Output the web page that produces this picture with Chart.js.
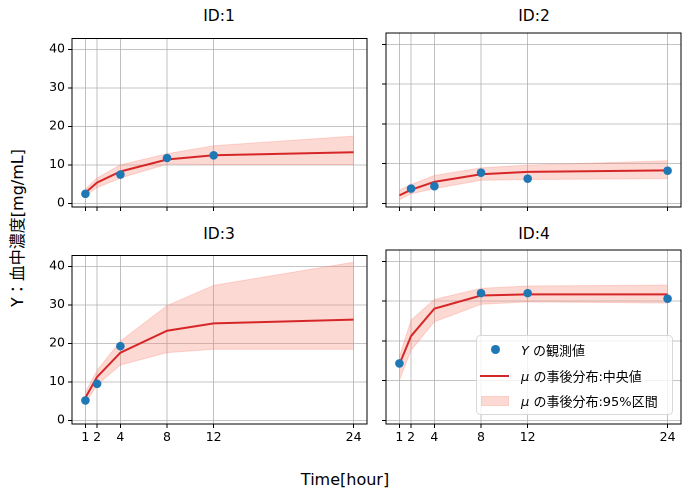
<!DOCTYPE html>
<html><head><meta charset="utf-8">
<script src="https://cdn.jsdelivr.net/npm/chart.js@4/dist/chart.umd.min.js"></script>
<style>
body{margin:0;background:#fff;width:691px;height:500px;position:relative;overflow:hidden;font-family:"DejaVu Sans","Noto Sans CJK JP",sans-serif;color:#000}
canvas{position:absolute}
.t{position:absolute;white-space:nowrap;transform:translate(-50%,-50%);line-height:1}
.lg{position:absolute;left:476px;top:335px;width:197px;height:80px;border:1px solid #d8d8d8;border-radius:4px;background:rgba(255,255,255,0.8);box-sizing:border-box}
.row{position:absolute;left:44px;font-size:13px;white-space:nowrap;transform:translateY(-50%);line-height:1}
.mk{position:absolute}
</style></head><body>
<script>
// ---- data ----
const TIMES = [1, 2, 4, 8, 12, 24];
const Y_TICKS = [0, 10, 20, 30, 40];
const X_TICKS = [1, 2, 4, 8, 12, 24];
const TITLES = ["ID:1", "ID:2", "ID:3", "ID:4"];

const ID1_OBS_X = [1, 4, 8, 12];
const ID1_OBS_Y = [2.5, 7.5, 11.8, 12.5];
const ID1_MEDIAN = [2.8, 5.4, 8.3, 11.4, 12.5, 13.3];
const ID1_UPPER = [3.7, 6.6, 10.0, 12.9, 15.0, 17.5];
const ID1_LOWER = [2.0, 4.1, 6.6, 10.2, 10.1, 10.1];

const ID2_OBS_X = [2, 4, 8, 12, 24];
const ID2_OBS_Y = [3.7, 4.3, 7.7, 6.2, 8.2];
const ID2_MEDIAN = [2.0, 3.4, 5.4, 7.3, 7.9, 8.3];
const ID2_UPPER = [3.3, 4.7, 7.0, 8.9, 9.6, 10.7];
const ID2_LOWER = [0.9, 2.4, 3.7, 5.8, 6.0, 6.2];

const ID3_OBS_X = [1, 2, 4];
const ID3_OBS_Y = [5.2, 9.5, 19.3];
const ID3_MEDIAN = [5.9, 11.3, 17.6, 23.3, 25.2, 26.2];
const ID3_UPPER = [7.4, 13.0, 20.6, 29.8, 35.1, 41.1];
const ID3_LOWER = [4.4, 9.2, 14.4, 17.6, 18.5, 18.5];

const ID4_OBS_X = [1, 8, 12, 24];
const ID4_OBS_Y = [14.3, 32.0, 32.0, 30.6];
const ID4_MEDIAN = [14.1, 21.2, 28.1, 31.4, 31.7, 31.7];
const ID4_UPPER = [16.0, 25.2, 30.4, 33.2, 33.8, 34.0];
const ID4_LOWER = [10.1, 17.6, 24.8, 29.2, 29.8, 29.5];

const LEGEND_LABELS = ["の観測値", "の事後分布:中央値", "の事後分布:95%区間"];
</script>

<div class="t" style="left:219px;top:17px;font-size:15.5px">ID:1</div>
<div class="t" style="left:534px;top:17px;font-size:15.5px">ID:2</div>
<div class="t" style="left:219px;top:235px;font-size:15.5px">ID:3</div>
<div class="t" style="left:534px;top:235px;font-size:15.5px">ID:4</div>
<div class="t" style="left:345px;top:480px;font-size:16px">Time[hour]</div>
<div class="t" style="left:18px;top:228px;font-size:16px;transform:translate(-50%,-50%) rotate(-90deg)">Y：血中濃度[mg/mL]</div>

<script>
const PANELS = [
  {ox: ID1_OBS_X, oy: ID1_OBS_Y, med: ID1_MEDIAN, up: ID1_UPPER, lo: ID1_LOWER, L: 71.5, T: 33, showX: false, showY: true},
  {ox: ID2_OBS_X, oy: ID2_OBS_Y, med: ID2_MEDIAN, up: ID2_UPPER, lo: ID2_LOWER, L: 386, T: 33, showX: false, showY: false},
  {ox: ID3_OBS_X, oy: ID3_OBS_Y, med: ID3_MEDIAN, up: ID3_UPPER, lo: ID3_LOWER, L: 71.5, T: 249.5, showX: true, showY: true},
  {ox: ID4_OBS_X, oy: ID4_OBS_Y, med: ID4_MEDIAN, up: ID4_UPPER, lo: ID4_LOWER, L: 386, T: 249.5, showX: true, showY: true && false}
];
PANELS[2].showY = true; PANELS[3].showY = false;
const PW = 295, PH = 174, AX = 40, PADT = 5, PADR = 5, AXH = 30;

const boxPlugin = {
  id: 'box',
  afterDraw(c) {
    const a = c.chartArea, x = c.ctx;
    x.save(); x.strokeStyle = '#000'; x.lineWidth = 1;
    x.strokeRect(a.left, a.top, a.right - a.left, a.bottom - a.top);
    x.restore();
  }
};
const BAND = 'rgba(250,128,114,0.3)';
const FONT = '"DejaVu Sans","Noto Sans CJK JP",sans-serif';

PANELS.forEach((p) => {
  const cv = document.createElement('canvas');
  const w = PW + AX + PADR, h = PH + PADT + AXH;
  cv.width = w; cv.height = h;
  cv.style.left = (p.L - AX) + 'px';
  cv.style.top = (p.T - PADT) + 'px';
  cv.style.width = w + 'px'; cv.style.height = h + 'px';
  document.body.appendChild(cv);
  const pts = (xs, ys) => xs.map((v, i) => ({x: v, y: ys[i]}));
  new Chart(cv, {
    type: 'scatter',
    data: {
      datasets: [
        {type: 'scatter', data: pts(p.ox, p.oy), backgroundColor: '#1f77b4', borderColor: '#1f77b4', pointRadius: 4.3, pointHoverRadius: 4.3, borderWidth: 0, order: 0},
        {type: 'line', data: pts(TIMES, p.med), borderColor: '#d62728', borderWidth: 2, pointRadius: 0, fill: false, tension: 0, order: 1},
        {type: 'line', data: pts(TIMES, p.up), borderColor: BAND, backgroundColor: BAND, borderWidth: 1, pointRadius: 0, fill: '+1', tension: 0, order: 2},
        {type: 'line', data: pts(TIMES, p.lo), borderColor: BAND, backgroundColor: BAND, borderWidth: 1, pointRadius: 0, fill: false, tension: 0, order: 3}
      ]
    },
    options: {
      responsive: false, animation: false, devicePixelRatio: 2,
      layout: {padding: {top: PADT, right: PADR, left: 0, bottom: 0}},
      plugins: {legend: {display: false}, tooltip: {enabled: false}},
      events: [],
      scales: {
        x: {
          type: 'linear', min: -0.15, max: 25.15,
          afterBuildTicks: s => { s.ticks = X_TICKS.map(v => ({value: v})); },
          afterFit: s => { s.height = AXH; },
          grid: {color: '#b0b0b0', lineWidth: 0.8, tickColor: '#000', tickLength: 4, tickWidth: 1},
          border: {display: false},
          ticks: {display: p.showX, autoSkip: false, maxRotation: 0, padding: 2, color: '#000', font: {family: FONT, size: 12.5}}
        },
        y: {
          type: 'linear', min: -0.93, max: 42.85,
          afterBuildTicks: s => { s.ticks = Y_TICKS.map(v => ({value: v})); },
          afterFit: s => { s.width = AX; },
          grid: {color: '#b0b0b0', lineWidth: 0.8, tickColor: '#000', tickLength: 4, tickWidth: 1},
          border: {display: false},
          ticks: {display: p.showY, autoSkip: false, padding: 3, color: '#000', font: {family: FONT, size: 12.5}}
        }
      }
    },
    plugins: [boxPlugin]
  });
});
</script>

<div class="lg">
  <div class="mk" style="left:14px;top:9px;width:9px;height:9px;border-radius:50%;background:#1f77b4"></div>
  <div class="row" style="top:14px"><i style="font-family:'DejaVu Sans'">Y</i> <span id="l0"></span></div>
  <div class="mk" style="left:3px;top:39px;width:29px;height:2px;background:#d62728"></div>
  <div class="row" style="top:40px"><i style="font-family:'DejaVu Sans'">μ</i> <span id="l1"></span></div>
  <div class="mk" style="left:4px;top:60px;width:28px;height:10px;background:rgba(250,128,114,0.3);box-shadow:inset 0 0 0 1px rgba(250,128,114,0.15)"></div>
  <div class="row" style="top:65px"><i style="font-family:'DejaVu Sans'">μ</i> <span id="l2"></span></div>
</div>
<script>
LEGEND_LABELS.forEach((t, i) => { document.getElementById('l' + i).textContent = t; });
</script>
</body></html>
